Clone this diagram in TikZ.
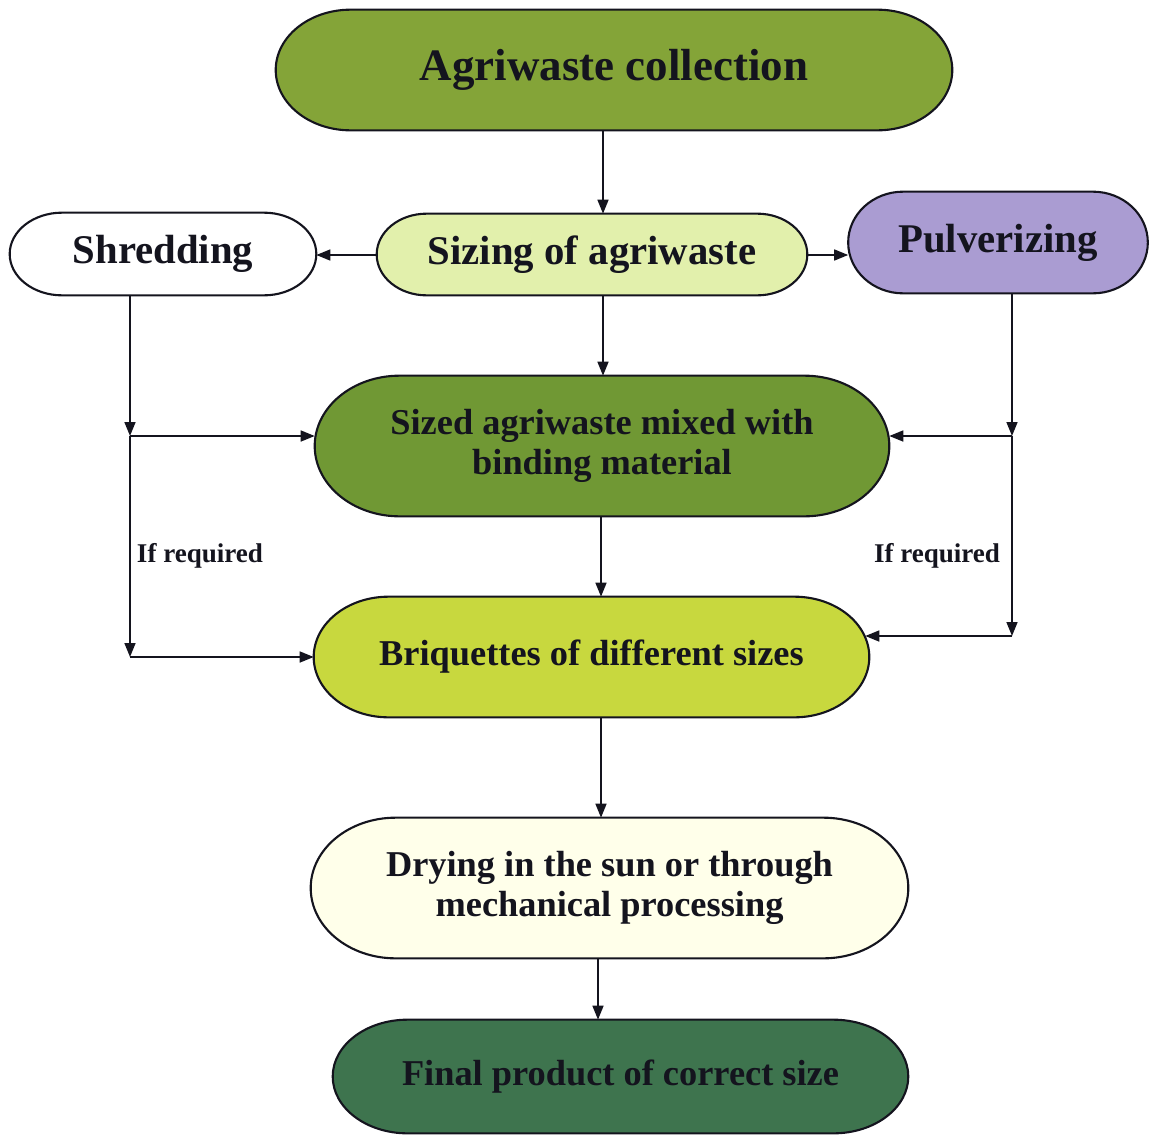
\documentclass[tikz,border=0pt]{standalone}
\usepackage{fontspec}
\setmainfont{Liberation Serif}
\usetikzlibrary{arrows.meta,calc,backgrounds}
\definecolor{agriC}{RGB}{132,164,56}
\definecolor{sizC}{RGB}{226,240,172}
\definecolor{pulvC}{RGB}{170,156,210}
\definecolor{mixC}{RGB}{112,152,52}
\definecolor{briqC}{RGB}{200,216,62}
\definecolor{dryC}{RGB}{255,255,234}
\definecolor{finC}{RGB}{62,116,78}
\definecolor{inkC}{RGB}{20,20,30}
\tikzset{
  box/.style={rectangle, inner sep=0pt, align=center, text=inkC, font=\bfseries},
  fbig/.style={font=\bfseries\fontsize{25.6}{28}\selectfont},
  fmid/.style={font=\bfseries\fontsize{23.2}{26}\selectfont},
  fsml/.style={font=\bfseries\fontsize{20.7}{22.8}\selectfont},
  flab/.style={font=\bfseries\fontsize{15.4}{17}\selectfont, text=inkC},
  stadline/.style={draw=inkC, line width=1.2pt},
  conn/.style={draw=inkC, line width=0.9pt, -{Triangle[length=2.8mm,width=2.2mm]}},
}
\newcommand\stadshape[3]{%
  \begin{scope}[on background layer]
    \path[stadline, fill=#3] let \p1=(#1.north west), \p2=(#1.south east) in
      ({\x1+#2},\y1) -- ({\x2-#2},\y1)
      arc[start angle=90, end angle=-90, x radius=#2, y radius={0.5*(\y1-\y2)}]
      -- ({\x1+#2},\y2)
      arc[start angle=270, end angle=90, x radius=#2, y radius={0.5*(\y1-\y2)}]
      -- cycle;
  \end{scope}}
\begin{document}
\begin{tikzpicture}[x=0.02cm, y=-0.02cm]
\useasboundingbox (0,0) rectangle (1149,1136);
\begin{scope}[on background layer]
\fill[white] (0,0) rectangle (1149,1136);
\end{scope}

\node[box, fbig, minimum width=13.52cm, minimum height=2.4cm] (agri) at (614,70) {Agriwaste collection};
\node[box, fmid, minimum width=8.6cm, minimum height=1.62cm] (sizing) at (592,254.5) {Sizing of agriwaste};
\node[box, fmid, minimum width=6.12cm, minimum height=1.64cm] (shred) at (163,254) {Shredding};
\node[box, fmid, minimum width=5.98cm, minimum height=2.02cm] (pulv) at (998,242.5) {Pulverizing};
\node[box, fsml, minimum width=11.48cm, minimum height=2.8cm] (mixed) at (602,446) {Sized agriwaste mixed with\\binding material};
\node[box, fsml, minimum width=11.1cm, minimum height=2.4cm] (briq) at (591.5,657) {Briquettes of different sizes};
\node[box, fsml, minimum width=11.94cm, minimum height=2.8cm] (dry) at (609.5,888) {Drying in the sun or through\\mechanical processing};
\node[box, fsml, minimum width=11.5cm, minimum height=2.26cm] (final) at (620.5,1076.5) {\raisebox{0.15cm}{Final product of correct size}};

\stadshape{agri}{1.5cm}{agriC}
\stadshape{sizing}{1.0cm}{sizC}
\stadshape{shred}{1.05cm}{white}
\stadshape{pulv}{1.1cm}{pulvC}
\stadshape{mixed}{1.7cm}{mixC}
\stadshape{briq}{1.5cm}{briqC}
\stadshape{dry}{1.7cm}{dryC}
\stadshape{final}{1.5cm}{finC}

\coordinate (cxa) at (603,0);
\coordinate (cxb) at (601,0);
\coordinate (cxc) at (598,0);
\coordinate (sl) at (130,0);
\coordinate (pl) at (1012,0);
\coordinate (ys) at (0,255);
\coordinate (yj) at (0,436);
\coordinate (yl) at (0,657);
\coordinate (yr) at (0,636);

\draw[conn] (agri.south -| cxa) -- (sizing.north -| cxa);
\draw[conn] (sizing.west |- ys) -- (shred.east |- ys);
\draw[conn] (sizing.east |- ys) -- (pulv.west |- ys);
\draw[conn] (sizing.south -| cxa) -- (mixed.north -| cxa);
\draw[conn] (mixed.south -| cxb) -- (briq.north -| cxb);
\draw[conn] (briq.south -| cxb) -- (dry.north -| cxb);
\draw[conn] (dry.south -| cxc) -- (final.north -| cxc);

\coordinate (jl1) at (sl |- yj);
\coordinate (jl2) at (sl |- yl);
\coordinate (jr1) at (pl |- yj);
\coordinate (jr2) at (pl |- yr);
\draw[conn] (shred.south -| sl) -- (jl1);
\draw[conn] (jl1) -- (jl2);
\draw[conn] (jl1) -- (mixed.west |- yj);
\draw[conn] (jl2) -- (briq.west |- yl);
\draw[conn] (pulv.south -| pl) -- (jr1);
\draw[conn] (jr1) -- (jr2);
\draw[conn] (jr1) -- (mixed.east |- yj);
\draw[conn] (jr2) -- ([xshift=-0.08cm]briq.east |- yr);

\node[flab] (ifl) at (200,556) {If required};
\node[flab] (ifr) at (937,556) {If required};
\end{tikzpicture}
\end{document}
